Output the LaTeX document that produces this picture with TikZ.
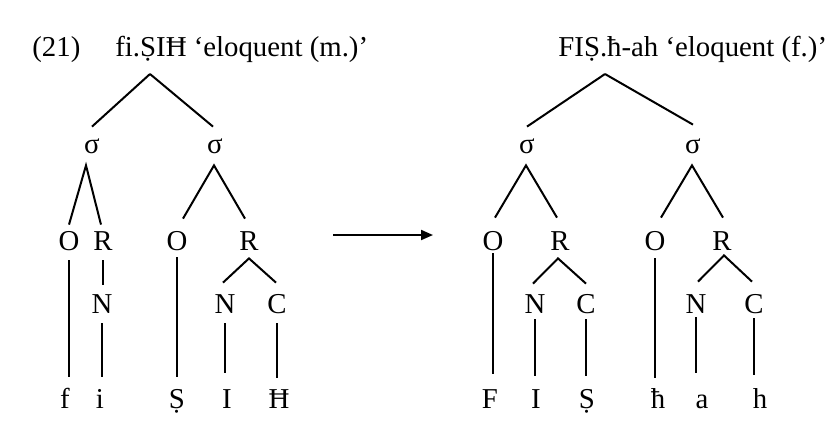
\documentclass[tikz,border=0pt]{standalone}
\usepackage{fontspec}
\setmainfont{Liberation Serif}
\usetikzlibrary{arrows.meta}
\begin{document}
\begin{tikzpicture}[x=0.5pt,y=-0.5pt,
  lab/.style={inner sep=0pt,anchor=base,text height=9.5pt,text depth=0pt},
  ttl/.style={inner sep=0pt,anchor=base west},
  br/.style={line width=1pt},
  every node/.style={font=\fontsize{14.4pt}{17pt}\selectfont}]
\useasboundingbox (0,0) rectangle (827,447);
% titles
\node[ttl] (num) at (32,56) {(21)};
\node[ttl] (tl) at (115,56) {fi.ṢIĦ ‘eloquent (m.)’};
\node[ttl] (tr) at (558,56) {FIṢ.ħ-ah ‘eloquent (f.)’};
% left tree
\coordinate (apL) at (150,74);
\node[lab] (s1) at (92,153) {σ};
\node[lab] (s2) at (215,153) {σ};
\node[lab] (O1) at (69,250) {O};
\node[lab] (R1) at (103,250) {R};
\node[lab] (O2) at (177,250) {O};
\node[lab] (R2) at (249,250) {R};
\node[lab] (N1) at (102,313) {N};
\node[lab] (N2) at (225,313) {N};
\node[lab] (C2) at (277,313) {C};
\node[lab] (f) at (65,408) {f};
\node[lab] (i) at (100,408) {i};
\node[lab] (S1) at (177,408) {Ṣ};
\node[lab] (I1) at (227,408) {I};
\node[lab] (H1) at (279,408) {Ħ};
\draw[br] (apL) -- ([yshift=3.5pt]s1.north);
\draw[br] (apL) -- ([yshift=3.5pt,xshift=-1pt]s2.north);
\draw[br] ([yshift=3pt]O1.north) -- ([yshift=-6pt,xshift=-3pt]s1.south) -- ([yshift=3pt,xshift=-1pt]R1.north);
\draw[br] ([yshift=6pt,xshift=3pt]O2.north) -- ([yshift=-6pt,xshift=-0.5pt]s2.south) -- ([yshift=6pt,xshift=-2pt]R2.north);
\draw[br,shorten <=5pt,shorten >=6pt] (O1.south) -- (O1.south |- f.north);
\draw[br,shorten <=5pt,shorten >=4.5pt] (R1.south) -- (R1.south |- N1.north);
\draw[br,shorten <=5pt,shorten >=6pt] (N1.south) -- (N1.south |- i.north);
\draw[br,shorten <=3.5pt,shorten >=6pt] (O2.south) -- (O2.south |- S1.north);
\draw[br] ([yshift=5.5pt,xshift=-1pt]N2.north) -- ([yshift=-4pt]R2.south) -- ([yshift=5.5pt,xshift=-0.5pt]C2.north);
\draw[br,shorten <=5pt,shorten >=8pt] (N2.south) -- (N2.south |- I1.north);
\draw[br,shorten <=5pt,shorten >=5.5pt] (C2.south) -- (C2.south |- H1.north);
% arrow
\coordinate (arS) at (333,235);
\coordinate (arE) at (433,235);
\draw[br,-{Triangle[length=6pt,width=5pt]}] (arS) -- (arE);
% right tree
\coordinate (apR) at (605,74);
\node[lab] (s3) at (527,153) {σ};
\node[lab] (s4) at (693,153) {σ};
\node[lab] (O3) at (493,250) {O};
\node[lab] (R3) at (560,250) {R};
\node[lab] (O4) at (655,250) {O};
\node[lab] (R4) at (722,250) {R};
\node[lab] (N3) at (535,313) {N};
\node[lab] (C3) at (586,313) {C};
\node[lab] (N4) at (696,313) {N};
\node[lab] (C4) at (754,313) {C};
\node[lab] (F) at (490,408) {F};
\node[lab] (I2) at (536,408) {I};
\node[lab] (S2) at (587,408) {Ṣ};
\node[lab] (hb) at (658,408) {ħ};
\node[lab] (a) at (702,408) {a};
\node[lab] (h) at (760,408) {h};
\draw[br] (apR) -- ([yshift=3.5pt]s3.north);
\draw[br] (apR) -- ([yshift=4.5pt]s4.north);
\draw[br] ([yshift=6.5pt,xshift=1pt]O3.north) -- ([yshift=-6pt,xshift=-0.5pt]s3.south) -- ([yshift=6.5pt,xshift=-1.5pt]R3.north);
\draw[br] ([yshift=6.5pt,xshift=3pt]O4.north) -- ([yshift=-6pt,xshift=-0.5pt]s4.south) -- ([yshift=6.5pt,xshift=0.5pt]R4.north);
\draw[br,shorten <=1.5pt,shorten >=7.5pt] (O3.south) -- (O3.south |- F.north);
\draw[br] ([yshift=5pt,xshift=-1pt]N3.north) -- ([yshift=-4pt,xshift=-1pt]R3.south) -- ([yshift=5pt]C3.north);
\draw[br,shorten <=3pt,shorten >=6.5pt] (N3.south) -- (N3.south |- I2.north);
\draw[br,shorten <=3pt,shorten >=6.5pt] (C3.south) -- (C3.south |- S2.north);
\draw[br,shorten <=4pt,shorten >=5.5pt] (O4.south) -- (O4.south |- hb.north);
\draw[br] ([yshift=6pt,xshift=1pt]N4.north) -- ([yshift=-2.5pt,xshift=1pt]R4.south) -- ([yshift=6pt,xshift=-1pt]C4.north);
\draw[br,shorten <=2pt,shorten >=8pt] (N4.south) -- (N4.south |- a.north);
\draw[br,shorten <=2.5pt,shorten >=7pt] (C4.south) -- (C4.south |- h.north);
\end{tikzpicture}
\end{document}
